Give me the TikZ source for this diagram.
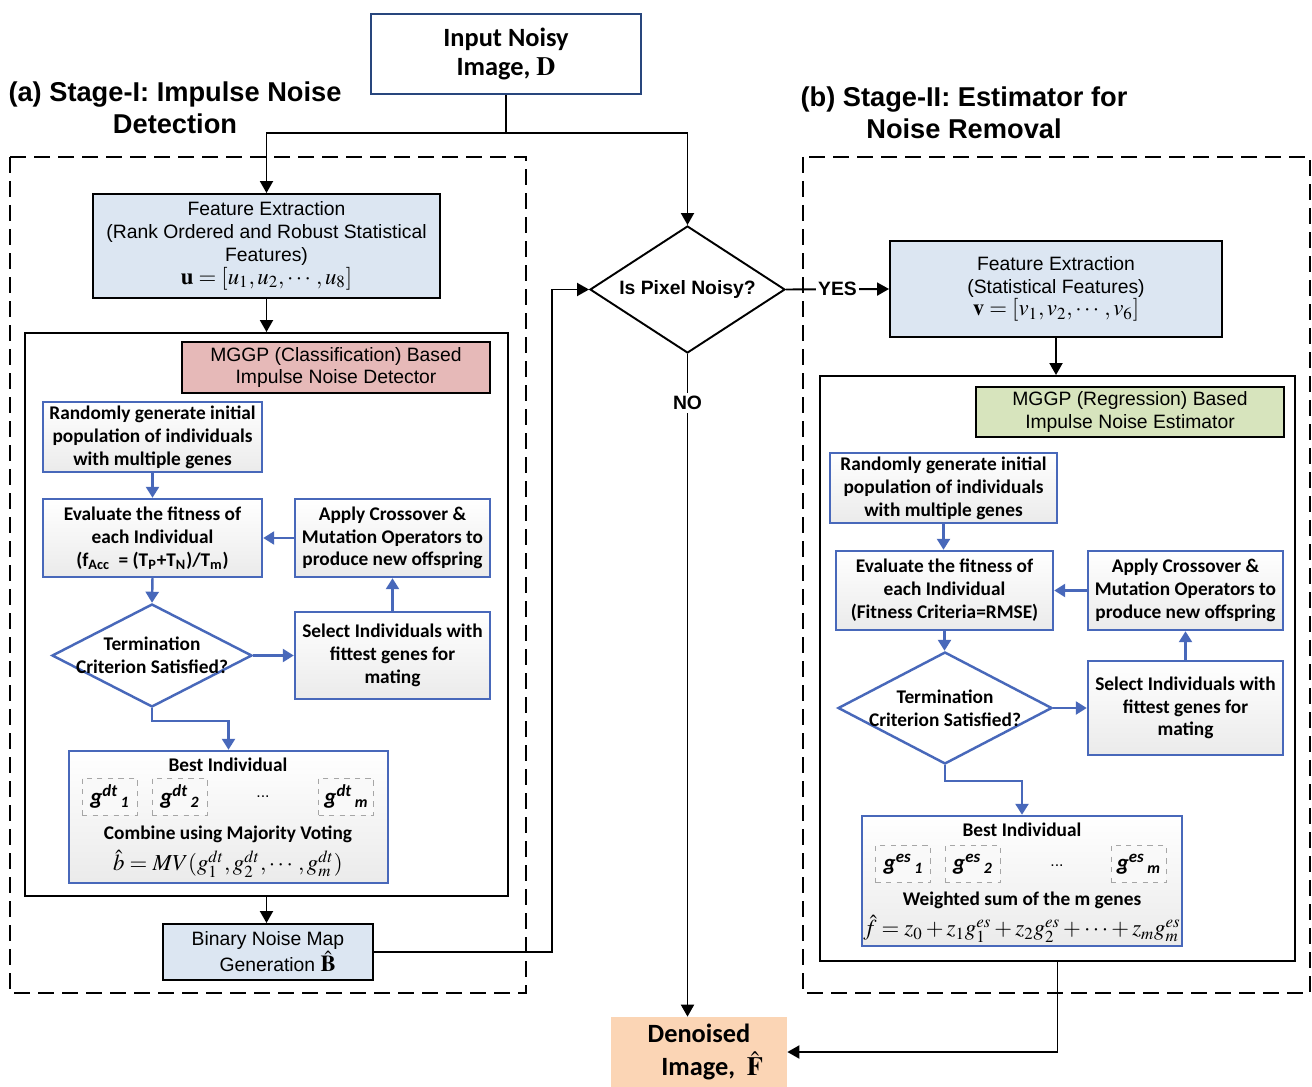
\documentclass[tikz,border=0pt]{standalone}
\usepackage{amsmath,amssymb}
\usepackage{mathptmx}
\usepackage[no-math]{fontspec}
\setmainfont{Liberation Sans}
\newfontfamily\calibfont{Carlito}
\usepackage{tikz}
\usetikzlibrary{shapes,arrows.meta,positioning,calc}

\definecolor{flowblue}{RGB}{72,104,186}
\definecolor{inputblue}{RGB}{40,70,125}
\definecolor{paleblue}{RGB}{220,230,242}
\definecolor{rosepink}{RGB}{230,185,184}
\definecolor{palegreen}{RGB}{215,228,189}
\definecolor{peach}{RGB}{251,213,181}

\newcommand{\gpfont}{\calibfont\bfseries\fontsize{11}{13}\selectfont}
\newcommand{\gene}[2]{g\textsuperscript{#1}\raisebox{-0.3ex}{\small\,#2}}
\newcommand{\eqsize}{\fontsize{13}{13}\selectfont}

\tikzset{
  plainbox/.style={draw=black, line width=1.1pt, fill=paleblue, align=center,
    font=\fontsize{11}{13}\selectfont, inner sep=2pt},
  gpbox/.style={draw=flowblue, line width=1.4pt, top color=white, bottom color=gray!16,
    align=center, font=\gpfont, inner sep=2pt},
  gpdiam/.style={diamond, draw=flowblue, line width=1.4pt, fill=white, inner sep=0pt},
  genebox/.style={draw=gray!70, dashed, fill=gray!5, minimum width=11mm, minimum height=7.4mm,
    font=\calibfont\bfseries\itshape\fontsize{13}{14}\selectfont},
  holder/.style={draw=black, line width=1.1pt, fill=white},
  stagebox/.style={draw=black, line width=1.1pt, dash pattern=on 3.2mm off 1.6mm},
  flowline/.style={draw=flowblue, line width=1.4pt, -{Triangle[length=2.2mm,width=2.6mm]}},
  mainline/.style={draw=black, line width=1.1pt, -{Triangle[length=2.4mm,width=2.6mm]}},
}

\begin{document}
\begin{tikzpicture}[x=0.2mm,y=-0.2mm]
\useasboundingbox (0,0) rectangle (1312,1087);

% stage frames and titles
\draw[stagebox] (10,157) rectangle (526,993);
\draw[stagebox] (803,157) rectangle (1310,993);
\node[align=center, font=\bfseries\fontsize{15.5}{18}\selectfont] (titleA) at (175,108)
  {(a) Stage-I: Impulse Noise\\Detection};
\node[align=center, font=\bfseries\fontsize{15.5}{18}\selectfont] (titleB) at (964,113)
  {(b) Stage-II: Estimator for\\Noise Removal};

% input, decision and output
\node[draw=inputblue, line width=1.1pt, fill=white, minimum width=54mm, minimum height=16mm,
  align=center, font=\calibfont\bfseries\fontsize{15}{16}\selectfont] (input) at (506,54)
  {Input Noisy\\Image, $\mathbf{D}$};
\node[diamond, draw=black, line width=1.1pt, fill=white, inner sep=0pt, minimum width=39mm,
  minimum height=25.4mm, label={[font=\bfseries\fontsize{11}{13}\selectfont]center:Is Pixel Noisy?}]
  (noisy) at (687.5,289.5) {};
\node[fill=peach, minimum width=35.2mm, minimum height=14mm, align=center,
  font=\calibfont\bfseries\fontsize{15}{19}\selectfont] (den) at (699,1052)
  {Denoised\\\quad Image,~ $\hat{\mathbf{F}}$};

% stage I
\node[plainbox, minimum width=69.4mm, minimum height=20.8mm] (fe1) at (266.5,246)
  {Feature Extraction\\(Rank Ordered and Robust Statistical\\Features)\\
   {\eqsize$\mathbf{u}=[u_1,u_2,\cdots,u_8]$}};
\node[holder, minimum width=96.6mm, minimum height=112.6mm] (inL) at (266.5,614.5) {};
\node[plainbox, fill=rosepink, minimum width=61.6mm, minimum height=10.2mm] (mgL) at (336,367.5)
  {MGGP (Classification) Based\\Impulse Noise Detector};
\node[gpbox, minimum width=43.8mm, minimum height=14mm] (randL) at (152.5,437)
  {Randomly generate initial\\population of individuals\\with multiple genes};
\node[gpbox, minimum width=43.8mm, minimum height=15.6mm] (evalL) at (152.5,538)
  {Evaluate the fitness of\\each Individual\\(f\textsubscript{Acc}~ = (T\textsubscript{P}+T\textsubscript{N})/T\textsubscript{m})};
\node[gpbox, minimum width=39mm, minimum height=15.6mm] (applyL) at (392.5,538)
  {Apply Crossover \&\\Mutation Operators to\\produce new offspring};
\node[gpdiam, minimum width=40mm, minimum height=20.6mm,
  label={[align=center, font=\gpfont]center:Termination\\Criterion Satisfied?}] (termL) at (152,655.5) {};
\node[gpbox, minimum width=39mm, minimum height=17.4mm] (selL) at (392.5,655.5)
  {Select Individuals with\\fittest genes for\\mating};
\node[gpbox, minimum width=63.8mm, minimum height=26.4mm] (bestL) at (228.5,817) {};
\node[font=\calibfont\bfseries\fontsize{11}{13}\selectfont] (bestLtitle) at (228,765) {Best Individual};
\node[genebox] (gL1) at (109.5,796.5) {\gene{dt}{1}};
\node[genebox] (gL2) at (179.5,796.5) {\gene{dt}{2}};
\node[font=\fontsize{9}{11}\selectfont] (gLdots) at (263,797) {...};
\node[genebox] (gLm) at (346,796.5) {\gene{dt}{m}};
\node[font=\calibfont\bfseries\fontsize{11}{13}\selectfont] (bestLrule) at (228,834)
  {Combine using Majority Voting};
\node[font=\fontsize{13}{15}\selectfont] (bestLeq) at (228,864)
  {$\hat{b}=MV(g_1^{dt},g_2^{dt},\cdots,g_m^{dt})$};
\node[plainbox, minimum width=42mm, minimum height=11.2mm] (bin) at (268,952)
  {Binary Noise Map\\\quad Generation {\eqsize$\hat{\mathbf{B}}$}};

% stage II
\node[plainbox, minimum width=66.4mm, minimum height=19.2mm] (fe2) at (1056,289)
  {Feature Extraction\\(Statistical Features)\\{\eqsize$\mathbf{v}=[v_1,v_2,\cdots,v_6]$}};
\node[holder, minimum width=95mm, minimum height=117mm] (inR) at (1057.5,668.5) {};
\node[plainbox, fill=palegreen, minimum width=61.6mm, minimum height=10mm] (mgR) at (1130,412)
  {MGGP (Regression) Based\\Impulse Noise Estimator};
\node[gpbox, minimum width=45.4mm, minimum height=14mm] (randR) at (943.5,488)
  {Randomly generate initial\\population of individuals\\with multiple genes};
\node[gpbox, minimum width=43.4mm, minimum height=15.8mm] (evalR) at (944.5,590.5)
  {Evaluate the fitness of\\each Individual\\(Fitness Criteria=RMSE)};
\node[gpbox, minimum width=39mm, minimum height=15.8mm] (applyR) at (1185.5,590.5)
  {Apply Crossover \&\\Mutation Operators to\\produce new offspring};
\node[gpdiam, minimum width=42.8mm, minimum height=22.4mm,
  label={[align=center, font=\gpfont]center:Termination\\Criterion Satisfied?}] (termR) at (945,708) {};
\node[gpbox, minimum width=39mm, minimum height=18.8mm] (selR) at (1185.5,708)
  {Select Individuals with\\fittest genes for\\mating};
\node[gpbox, minimum width=64mm, minimum height=26mm] (bestR) at (1022,881) {};
\node[font=\calibfont\bfseries\fontsize{11}{13}\selectfont] (bestRtitle) at (1022,830) {Best Individual};
\node[genebox] (gR1) at (903,864) {\gene{es}{1}};
\node[genebox] (gR2) at (972.5,864) {\gene{es}{2}};
\node[font=\fontsize{9}{11}\selectfont] (gRdots) at (1057,866) {...};
\node[genebox] (gRm) at (1138.5,864) {\gene{es}{m}};
\node[font=\calibfont\bfseries\fontsize{11}{13}\selectfont] (bestRrule) at (1022,900)
  {Weighted sum of the m genes};
\node[font=\fontsize{13}{15}\selectfont] (bestReq) at (1022,929)
  {$\hat{f}=z_0+z_1g_1^{es}+z_2g_2^{es}+\cdots+z_mg_m^{es}$};

% main connectors
\coordinate (split) at (506,133);
\coordinate (turnB) at (552,952);
\draw[line width=1.1pt] (input.south) -- (split);
\draw[mainline] (split) -| (fe1.north);
\draw[mainline] (split) -| (noisy.north);
\draw[mainline] (fe1.south) -- (inL.north);
\draw[mainline] (inL.south) -- (inL.south |- bin.north);
\draw[mainline] (bin.east) -- (turnB) |- (noisy.west);
\draw[mainline] (noisy.east) -- node[fill=white, inner sep=1pt, font=\bfseries\fontsize{11}{13}\selectfont] {YES} (fe2.west);
\draw[mainline] (noisy.south) -- node[pos=0.074, fill=white, inner sep=2pt, font=\bfseries\fontsize{11}{13}\selectfont] {NO} (noisy.south |- den.north);
\draw[mainline] (fe2.south) -- (fe2.south |- inR.north);
\draw[mainline] (inR.south) |- (den.east);

% GP loop, stage I
\draw[flowline] (randL.south) -- (evalL.north);
\draw[flowline] (evalL.south) -- (termL.north);
\draw[flowline] (applyL.west) -- (evalL.east);
\draw[flowline] (selL.north) -- (applyL.south);
\draw[flowline] (termL.east) -- (selL.west);
\draw[flowline] (termL.south) -- ++(0,13) -| (bestL.north);

% GP loop, stage II
\draw[flowline] (randR.south) -- (randR.south |- evalR.north);
\draw[flowline] (evalR.south) -- (evalR.south |- termR.north);
\draw[flowline] (applyR.west) -- (evalR.east);
\draw[flowline] (selR.north) -- (applyR.south);
\draw[flowline] (termR.east) -- (selR.west);
\draw[flowline] (termR.south) -- ++(0,16) -| (bestR.north);
\end{tikzpicture}
\end{document}
